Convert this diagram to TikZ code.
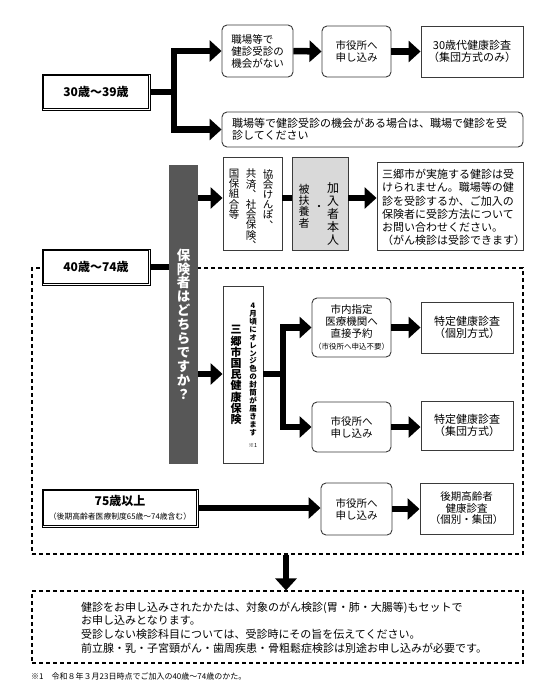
\documentclass[tikz,border=0pt]{standalone}
\usepackage{fontspec}
\setmainfont{Noto Sans CJK JP}
\newfontfamily\vfont[RawFeature=+vert]{Noto Sans CJK JP}
\usetikzlibrary{arrows.meta}
\newcommand\fs[2]{\fontsize{#1}{#2}\selectfont}
\definecolor{boxc}{HTML}{3A3A3A}
\definecolor{colc}{HTML}{575757}
\definecolor{lgray}{HTML}{D9D9D9}
\tikzset{
  box/.style={draw=boxc, line width=0.9pt, fill=white, inner sep=0pt, align=center, font=\fs{10.5}{12}},
  rbox/.style={box, rounded corners=5pt},
  dbox/.style={draw=black, line width=0.8pt, fill=white, inner sep=0pt, align=center, font=\bfseries\fs{12}{14}},
  dframe/.style={draw=black, line width=0.8pt},
  conn/.style={line width=6.5pt, black},
  arr/.style={conn, -{Triangle[length=12pt,width=21pt]}},
  grp/.style={draw=black, dash pattern=on 4pt off 3pt, line width=1.1pt, inner sep=0pt},
  vtxt/.style={inner sep=0pt, align=center, font=\vfont\fs{10.5}{10.2}},
  txt/.style={inner sep=0pt, align=left, anchor=west},
}
\begin{document}
\begin{tikzpicture}[x=1pt,y=-1pt]
\useasboundingbox (0,0) rectangle (556,685);

% ---------- 30-39 ----------
\node[dbox, minimum width=108pt, minimum height=36pt] (a30) at (96,92) {30歳〜39歳};
\draw[dframe] ([xshift=2.2pt,yshift=2.2pt]a30.south west) rectangle ([xshift=-2.2pt,yshift=-2.2pt]a30.north east);
\node[rbox, minimum width=71pt, minimum height=52pt, align=left] (nochance) at (257.5,51) {職場等で\\健診受診の\\機会がない};
\node[rbox, minimum width=69pt, minimum height=51pt] (apply1) at (356.5,51.5) {市役所へ\\申し込み};
\node[box, minimum width=102pt, minimum height=51pt, font=\fs{11}{12}] (exam30) at (472,51.5) {30歳代健康診査\\（集団方式のみ）};
\node[rbox, minimum width=301pt, minimum height=35pt] (chance) at (372.5,129.5) {};
\node[txt, font=\fs{11}{12.5}] (chancetxt) at (232,129.5) {職場等で健診受診の機会がある場合は、職場で健診を受\\診してください};
\coordinate (f1) at (174,92);
\draw[conn] (a30.east) -- (f1);
\draw[arr] (f1) |- (nochance.west);
\draw[arr] (f1) |- (chance.west);
\draw[arr] (nochance.east) -- (apply1.west);
\draw[arr] (apply1.east) -- (exam30.west);

% ---------- dashed group ----------
\node[grp, minimum width=491pt, minimum height=286pt] (group) at (277.5,411) {};

% ---------- insurer column ----------
\node[fill=colc, minimum width=29pt, minimum height=299pt, inner sep=0pt] (col) at (183.5,314.5) {};
\node[vtxt, font=\vfont\bfseries\fs{13.5}{13.9}, text=white] (coltxt) at (183.5,324) {保\\険\\者\\は\\ど\\ち\\ら\\で\\す\\か\\？};

% ---------- 40-74 ----------
\node[dbox, minimum width=108pt, minimum height=36pt] (a40) at (96,267) {40歳〜74歳};
\draw[dframe] ([xshift=2.2pt,yshift=2.2pt]a40.south west) rectangle ([xshift=-2.2pt,yshift=-2.2pt]a40.north east);
\draw[conn] (a40.east) -- (col.west |- a40.east);

% ---------- row A: other insurers ----------
\coordinate (rowA) at (0,198);
\node[box, minimum width=59pt, minimum height=93pt] (kyokai) at (252.5,203.5) {};
\node[vtxt, anchor=north] (k1) at (268,169) {協\\会\\け\\ん\\ぽ\\、};
\node[vtxt, anchor=north] (k2) at (251,169) {共\\済\\、\\社\\会\\保\\険\\、};
\node[vtxt, anchor=north] (k3) at (234,169) {国\\保\\組\\合\\等};
\node[box, fill=lgray, minimum width=56pt, minimum height=93pt] (kanyu) at (320,203.5) {};
\node[vtxt, font=\vfont\fs{12}{12.8}] (kanyu1) at (333,214) {加\\入\\者\\本\\人};
\node[vtxt] (kanyu2) at (319,208) {・};
\node[vtxt, font=\vfont\fs{11}{11.3}] (kanyu3) at (304,206) {被\\扶\\養\\者};
\node[box, minimum width=146pt, minimum height=88pt] (notice) at (450,206) {};
\node[txt, font=\fs{11}{13.1}] (noticetxt) at (382,207.5) {三郷市が実施する健診は受\\けられません。職場等の健\\診を受診するか、ご加入の\\保険者に受診方法について\\お問い合わせください。\\（がん検診は受診できます）};
\draw[arr] (col.east |- rowA) -- (kyokai.west |- rowA);
\draw[conn] (kyokai.east |- rowA) -- (kanyu.west |- rowA);
\draw[arr] (kanyu.east |- rowA) -- (notice.west |- rowA);

% ---------- row B: national health insurance ----------
\coordinate (rowB) at (0,374);
\node[box, minimum width=40pt, minimum height=177pt] (kokuho) at (243,374.5) {};
\node[vtxt, font=\vfont\bfseries\fs{11}{11.2}] (kk1) at (236,375) {三\\郷\\市\\国\\民\\健\\康\\保\\険};
\node[vtxt, font=\vfont\bfseries\fs{7.5}{7.95}] (kk2) at (253,369.5) {4\\月\\頃\\に\\オ\\レ\\ン\\ジ\\色\\の\\封\\筒\\が\\届\\き\\ま\\す};
\node[inner sep=0pt, font=\fs{5.5}{6}] (kk3) at (253,445) {※1};
\node[rbox, minimum width=79pt, minimum height=59pt] (clinic) at (351.5,327.5) {市内指定\\医療機関へ\\直接予約\\{\fs{7.5}{9}（市役所へ申込不要）}};
\node[box, minimum width=92pt, minimum height=51pt, font=\fs{11}{12}] (tokutei1) at (467,327.5) {特定健康診査\\（個別方式）};
\node[rbox, minimum width=79pt, minimum height=50pt] (apply2) at (351.5,427) {市役所へ\\申し込み};
\node[box, minimum width=92pt, minimum height=49pt, font=\fs{11}{12}] (tokutei2) at (467,425.5) {特定健康診査\\（集団方式）};
\coordinate (f2) at (283,374);
\draw[arr] (col.east |- rowB) -- (kokuho.west |- rowB);
\draw[conn] (kokuho.east |- rowB) -- (f2);
\draw[arr] (f2) |- (clinic.west);
\draw[arr] (f2) |- (apply2.west);
\draw[arr] (clinic.east) -- (tokutei1.west);
\draw[arr] (apply2.east) -- (tokutei2.west |- apply2.east);

% ---------- 75+ ----------
\node[dbox, minimum width=156pt, minimum height=38pt] (a75) at (120,508) {75歳以上\\{\mdseries\fs{7.8}{9}（後期高齢者医療制度65歳〜74歳含む）}};
\draw[dframe] ([xshift=2.2pt,yshift=2.2pt]a75.south west) rectangle ([xshift=-2.2pt,yshift=-2.2pt]a75.north east);
\node[rbox, minimum width=71pt, minimum height=52pt] (apply3) at (356.5,509) {市役所へ\\申し込み};
\node[box, minimum width=93pt, minimum height=51pt, font=\fs{10.5}{11.5}] (kouki) at (466.5,508.5) {後期高齢者\\健康診査\\（個別・集団）};
\draw[arr] (a75.east) -- (apply3.west |- a75.east);
\draw[arr] (apply3.east) -- (kouki.west |- apply3.east);

% ---------- bottom note ----------
\node[grp, minimum width=491pt, minimum height=72pt] (note) at (277.5,627) {};
\node[txt, font=\fs{11}{13.7}] (notetxt) at (81,627.5) {健診をお申し込みされたかたは、対象のがん検診(胃・肺・大腸等)もセットで\\お申し込みとなります。\\受診しない検診科目については、受診時にその旨を伝えてください。\\前立腺・乳・子宮頸がん・歯周疾患・骨粗鬆症検診は別途お申し込みが必要です。};
\coordinate (dx) at (286,0);
\draw[arr] (group.south -| dx) -- (note.north -| dx);
\node[txt, font=\fs{8}{9}] (fn) at (31,676) {※1　令和８年３月23日時点でご加入の40歳〜74歳のかた。};
\end{tikzpicture}
\end{document}
